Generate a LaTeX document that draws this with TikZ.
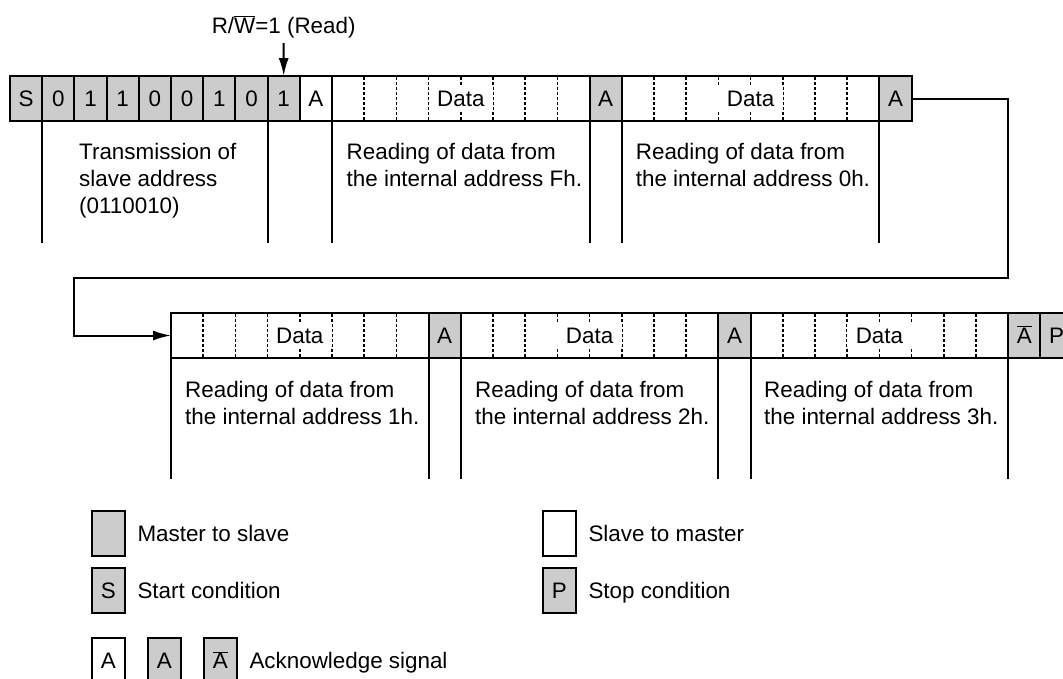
\documentclass[tikz,border=0pt]{standalone}
\usepackage{fontspec}
\setmainfont{Liberation Sans}
\usetikzlibrary{arrows.meta}
\definecolor{cellgray}{RGB}{204,204,204}
\newcommand{\ovbar}[1]{$\overline{\mbox{#1}}$}
\begin{document}
\begin{tikzpicture}[x=1pt,y=-1pt,
  font=\fontsize{22.4}{27}\selectfont,
  cell/.style={draw,line width=2pt,minimum width=32.2pt,minimum height=45pt,inner sep=0pt,outer sep=0pt,text height=16pt,text depth=0pt,anchor=north west},
  mcell/.style={cell,fill=cellgray},
  scell/.style={cell,fill=white},
  datablock/.style={cell,fill=white,minimum width=257.6pt},
  datalabel/.style={fill=white,inner xsep=8.5pt,inner ysep=4.5pt,text height=16pt,text depth=0pt},
  divider/.style={line width=1.5pt,dash pattern=on 3pt off 2pt},
  frameline/.style={line width=2pt},
  desc/.style={align=left,anchor=north west,inner sep=0pt},
  legtext/.style={anchor=west,inner sep=0pt,text height=16pt,text depth=0pt},
  conn/.style={line width=2pt,-{Latex[length=18pt,width=10pt]}},
]
\clip (0,0) rectangle (1063,678);
% ---- row 1 ----
\foreach \t [count=\i from 0] in {S,0,1,1,0,0,1,0,1}
  \node[mcell] (b\i) at ({10+\i*32.2},76) {\t};
\node[scell] (a0) at (299.8,76) {A};
\node[datablock] (d1) at (332,76) {};
\node[mcell] (a1) at (589.6,76) {A};
\node[datablock] (d2) at (621.8,76) {};
\node[mcell] (a2) at (879.4,76) {A};
% ---- row 2 ----
\node[datablock] (d3) at (171,313) {};
\node[mcell] (a3) at (428.6,313) {A};
\node[datablock] (d4) at (460.8,313) {};
\node[mcell] (a4) at (718.4,313) {A};
\node[datablock] (d5) at (750.6,313) {};
\node[mcell] (nack) at (1008.2,313) {\ovbar{A}};
\node[mcell] (stp) at (1040.4,313) {P};
% dotted dividers and Data labels
\foreach \d in {d1,d2,d3,d4,d5}{
  \foreach \k in {1,...,7}
    \draw[divider] ([xshift=\k*32.2pt,yshift=-1pt]\d.north west) -- ([xshift=\k*32.2pt,yshift=1pt]\d.south west);
  \node[datalabel] (\d l) at (\d.center) {Data};
}
% vertical separators below rows
\foreach \n in {b1,b8,d1,a1,d2,a2}
  \draw[frameline] (\n.south west) -- ++(0,122.3);
\foreach \n in {d3,a3,d4,a4,d5,nack}
  \draw[frameline] (\n.south west) -- ++(0,121);
% descriptions
\node[desc] (t1) at (79,143.5) {Transmission of\\slave address\\(0110010)};
\node[desc] (t2) at (346.5,143.5) {Reading of data from\\the internal address Fh.};
\node[desc] (t3) at (635.7,143.5) {Reading of data from\\the internal address 0h.};
\node[desc] (t4) at (185,381.5) {Reading of data from\\the internal address 1h.};
\node[desc] (t5) at (475,381.5) {Reading of data from\\the internal address 2h.};
\node[desc] (t6) at (764,381.5) {Reading of data from\\the internal address 3h.};
% R/W label
\node[anchor=base,inner sep=5pt] (rw) at (283.7,33.3) {R/\ovbar{W}=1 (Read)};
\draw[conn] (rw.south) -- (b8.north);
% wrap connector
\coordinate (r1) at (1008.2,278.3);
\coordinate (r2) at (74.3,335.5);
\draw[conn] (a2.east) -| (r1) -| (r2) -- (d3.west);
% legend
\node[mcell] (lg1) at (92.3,510.7) {};
\node[legtext] (lt1) at ([xshift=12.8pt]lg1.east) {Master to slave};
\node[scell] (lg2) at (543.3,510.7) {};
\node[legtext] (lt2) at ([xshift=12.8pt]lg2.east) {Slave to master};
\node[mcell] (lg3) at (92.3,568.3) {S};
\node[legtext] (lt3) at ([xshift=12.8pt]lg3.east) {Start condition};
\node[mcell] (lg4) at (543.3,568.3) {P};
\node[legtext] (lt4) at ([xshift=12.8pt]lg4.east) {Stop condition};
\node[scell] (lg5) at (92.3,638.3) {A};
\node[mcell] (lg6) at (148.3,638.3) {A};
\node[mcell] (lg7) at (204.3,638.3) {\ovbar{A}};
\node[legtext] (lt7) at ([xshift=12.8pt]lg7.east) {Acknowledge signal};
\end{tikzpicture}
\end{document}
